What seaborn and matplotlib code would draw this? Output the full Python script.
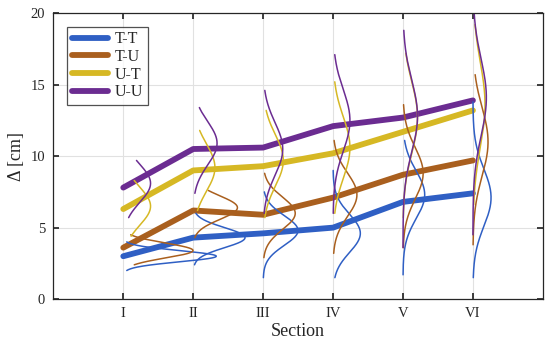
import numpy as np
import pandas as pd
import matplotlib
matplotlib.use("Agg")
import matplotlib.pyplot as plt
import seaborn as sns

# ---- data ----
sections = ["I", "II", "III", "IV", "V", "VI"]
series = ["T-T", "T-U", "U-T", "U-U"]

tt_mean = [3.0, 4.3, 4.6, 5.0, 6.8, 7.4]
tu_mean = [3.6, 6.2, 5.9, 7.1, 8.7, 9.7]
ut_mean = [6.3, 9.0, 9.3, 10.2, 11.7, 13.2]
uu_mean = [7.8, 10.5, 10.6, 12.1, 12.7, 13.9]

# distribution (mode, std, min, max) per section
tt_mode = [3.0, 4.3, 4.8, 4.6, 7.3, 7.1]
tt_sd = [0.39, 0.70, 1.04, 1.33, 1.67, 2.0]
tt_lo = [2.0, 2.4, 1.5, 1.5, 1.7, 1.5]
tt_hi = [4.0, 6.0, 7.5, 9.0, 11.1, 13.8]

tu_mode = [3.4, 6.4, 6.0, 7.3, 8.8, 11.0]
tu_sd = [0.52, 0.82, 1.13, 1.52, 1.8, 2.4]
tu_lo = [2.4, 4.3, 2.9, 3.2, 3.6, 3.8]
tu_hi = [4.5, 7.6, 8.8, 11.1, 13.6, 15.7]

ut_mode = [6.5, 9.2, 9.7, 10.6, 12.7, 13.6]
ut_sd = [1.33, 1.67, 1.8, 2.15, 2.5, 3.0]
ut_lo = [4.4, 6.2, 5.7, 6.0, 5.7, 6.6]
ut_hi = [8.3, 11.8, 13.2, 15.2, 17.2, 19.2]

uu_mode = [8.1, 10.9, 10.5, 12.5, 12.8, 14.1]
uu_sd = [1.33, 1.52, 1.85, 2.15, 2.5, 2.7]
uu_lo = [5.7, 7.4, 6.0, 6.0, 3.6, 4.5]
uu_hi = [9.7, 13.4, 14.6, 17.1, 18.8, 20.5]

colors = ["#2f5fc4", "#a95f1e", "#d6b824", "#6b2c91"]
means = [tt_mean, tu_mean, ut_mean, uu_mean]
dists = [
    (tt_mode, tt_sd, tt_lo, tt_hi),
    (tu_mode, tu_sd, tu_lo, tu_hi),
    (ut_mode, ut_sd, ut_lo, ut_hi),
    (uu_mode, uu_sd, uu_lo, uu_hi),
]
pdf_scale = 1.3

# ---- figure ----
sns.set_theme(style="whitegrid")
plt.rcParams["font.family"] = ["Liberation Serif", "DejaVu Serif"]
plt.rcParams["mathtext.fontset"] = "stix"

fig = plt.figure(figsize=(5.5, 3.47), dpi=100)
ax = fig.add_axes([0.097, 0.138, 0.89, 0.824])

pos = np.arange(1, len(sections) + 1)
rows = []
for name, m in zip(series, means):
    for p, v in zip(pos, m):
        rows.append({"pos": p, "val": v, "series": name})
df = pd.DataFrame(rows)

sns.lineplot(data=df, x="pos", y="val", hue="series", palette=colors,
             linewidth=4.2, ax=ax, legend=True, estimator=None, sort=False)

for c, (mo, sd, lo, hi) in zip(colors, dists):
    for i, p in enumerate(pos):
        yy = np.linspace(lo[i], hi[i], 200)
        dens = np.exp(-0.5 * ((yy - mo[i]) / sd[i]) ** 2) / (sd[i] * np.sqrt(2 * np.pi))
        xx = p + pdf_scale * dens
        sns.lineplot(x=xx, y=yy, color=c, linewidth=1.1, ax=ax,
                     sort=False, estimator=None, legend=False)

ax.set_xlim(0, 7)
ax.set_ylim(0, 20)
ax.set_xticks(pos)
ax.set_xticklabels(sections)
ax.set_yticks([0, 5, 10, 15, 20])
ax.set_xlabel("Section", fontsize=13, labelpad=2)
ax.set_ylabel("Δ [cm]", fontsize=13, labelpad=4)
ax.tick_params(axis="both", labelsize=10.5, direction="in", length=4,
               top=True, right=True, bottom=True, left=True, color="#262626",
               pad=6)
ax.grid(True, color="#e1e1e1", linewidth=0.8)
for s in ax.spines.values():
    s.set_color("#262626")
    s.set_linewidth(0.9)

leg = ax.legend(loc="upper left", bbox_to_anchor=(0.018, 0.97), fontsize=11.5,
                frameon=True, fancybox=False, handlelength=2.3,
                borderpad=0.3, labelspacing=0.1, handletextpad=0.4,
                borderaxespad=0.3)
leg.get_frame().set_edgecolor("#262626")
leg.get_frame().set_linewidth(0.9)
for h in leg.get_lines():
    h.set_linewidth(4.2)

fig.savefig("out.png", dpi=100)
